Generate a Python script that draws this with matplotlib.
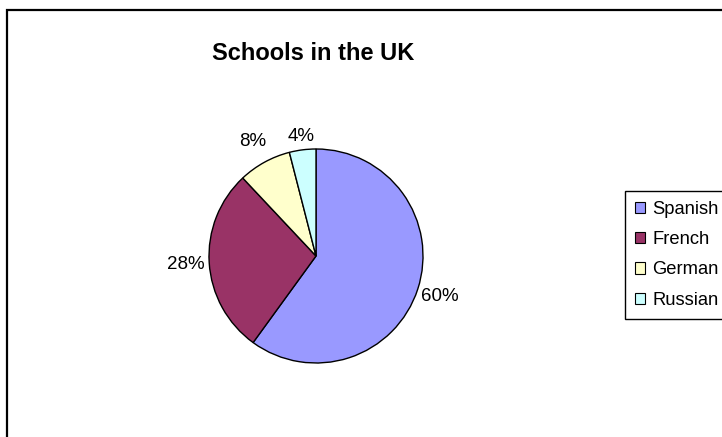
import matplotlib
matplotlib.use("Agg")
import matplotlib.pyplot as plt
from matplotlib.patches import Patch, Rectangle

plt.rcParams['font.family'] = ['Liberation Sans', 'DejaVu Sans']

languages = ['Spanish', 'French', 'German', 'Russian']
shares = [60, 28, 8, 4]
colours = ['#9999FF', '#993366', '#FFFFCC', '#CCFFFF']

W, H = 722, 437
fig = plt.figure(figsize=(W / 100, H / 100), dpi=100)

# outer chart border (runs off the right and bottom edges)
fig.patches.append(Rectangle((6.5 / W, -0.1), 1.2, (H - 9.5) / H + 0.1,
                             transform=fig.transFigure, fill=False,
                             edgecolor='black', linewidth=1.6))

# pie placed by centre and radius in pixels
cx, cy, r = 316, 256, 107
ax = fig.add_axes([(cx - r) / W, (H - cy - r) / H, 2 * r / W, 2 * r / H])
wedges, texts, pcts = ax.pie(shares, colors=colours, startangle=90,
                             counterclock=False, autopct='%1.0f%%',
                             pctdistance=1.22,
                             wedgeprops=dict(edgecolor='black', linewidth=1.0),
                             textprops=dict(fontsize=13.5, color='black'))
# small top slice label sits a little closer to the rim
x, y = pcts[3].get_position()
pcts[3].set_position((x * 1.13 / 1.22, y * 1.13 / 1.22))
ax.set_xlim(-1, 1)
ax.set_ylim(-1, 1)

fig.text(313 / W, 1 - 53 / H, 'Schools in the UK', ha='center', va='center',
         fontsize=17, fontweight='bold')

handles = [Patch(facecolor=c, edgecolor='black', linewidth=0.8) for c in colours]
leg = fig.legend(handles, languages, loc='upper left',
                 bbox_to_anchor=(625 / W, 1 - 191 / H), borderaxespad=0,
                 fancybox=False, edgecolor='black', framealpha=1,
                 fontsize=13.2, handlelength=0.55, handleheight=0.55,
                 handletextpad=0.4, labelspacing=0.72, borderpad=0.55)
leg.get_frame().set_linewidth(1.0)

fig.savefig('out.png', dpi=100)
